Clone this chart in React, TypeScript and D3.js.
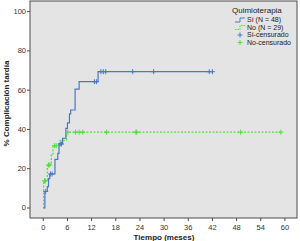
import React from "react";
import * as d3 from "d3";

// Sí (N = 48): step times (months) and cumulative incidence (%)
const siTimes = [0, 0.4, 1.0, 1.3, 1.6, 2.9, 3.6, 3.9, 4.8, 5.6, 6.0, 6.5, 6.8, 7.9, 8.9, 13.6, 42.0];
const siValues = [0, 8.4, 10.9, 15.0, 17.3, 24.8, 27.8, 32.6, 35.5, 40.5, 43.3, 47.9, 49.9, 60.5, 64.3, 69.4, 69.4];
const siCensored = [0.6, 1.8, 2.2, 4.2, 4.5, 12.7, 13.2, 14.3, 14.9, 15.5, 22.2, 27.4, 41.2, 42.0];

// No (N = 29)
const noTimes = [0, 0.1, 1.0, 2.0, 2.4, 4.2, 5.8, 59.0];
const noValues = [0, 13.8, 21.9, 27.0, 31.7, 34.5, 38.6, 38.6];
const noCensored = [0.3, 0.5, 1.3, 1.6, 2.8, 3.2, 6.1, 8.0, 8.9, 9.8, 15.7, 23.0, 23.2, 49.0, 59.0];

const xTicks = [0, 6, 12, 18, 24, 30, 36, 42, 48, 54, 60];
const yTicks = [0, 20, 40, 60, 80, 100];

const legendTitle = "Quimioterapia";
const legendLabels = ["Sí (N = 48)", "No (N = 29)", "Sí-censurado", "No-censurado"];

const BLUE = "#4a78c9";
const GREEN = "#4fe03a";
const FONT = "Arial, 'Liberation Sans', sans-serif";

function stepValue(times: number[], values: number[], t: number) {
  let v = values[0];
  for (let i = 0; i < times.length; i++) if (times[i] <= t) v = values[i];
  return v;
}

export default function App() {
  const W = 300, H = 241;
  const left = 30, right = 297, top = 1, bottom = 218;
  const x = d3.scaleLinear().domain([-3.3, 63]).range([left, right]);
  const y = d3.scaleLinear().domain([-5.1, 105.4]).range([bottom, top]);

  const line = d3
    .line<[number, number]>()
    .x((d) => x(d[0]))
    .y((d) => y(d[1]))
    .curve(d3.curveStepAfter);

  const siPts = siTimes.map((t, i) => [t, siValues[i]] as [number, number]);
  const noPts = noTimes.map((t, i) => [t, noValues[i]] as [number, number]);

  const cross = (cx: number, cy: number, color: string, key: string) => (
    <g key={key} stroke={color} strokeWidth={1}>
      <line x1={cx - 2.5} x2={cx + 2.5} y1={cy} y2={cy} />
      <line x1={cx} x2={cx} y1={cy - 2.5} y2={cy + 2.5} />
    </g>
  );

  const legY = (i: number) => 20 + i * 7.5;

  return (
    <svg width={W} height={H} style={{ position: "absolute", left: 0, top: 0, background: "#fff" }} fontFamily={FONT}>
      <rect x={left} y={top} width={right - left} height={bottom - top} fill="#e4e4e4" stroke="#4d4d4d" strokeWidth={1} />
      {yTicks.map((t) => (
        <g key={"y" + t}>
          <line x1={left - 3} x2={left} y1={y(t)} y2={y(t)} stroke="#4d4d4d" />
          <text x={left - 4} y={y(t)} dy="0.33em" textAnchor="end" fontSize={7.5} fill="#333">
            {t}
          </text>
        </g>
      ))}
      {xTicks.map((t) => (
        <g key={"x" + t}>
          <line x1={x(t)} x2={x(t)} y1={bottom} y2={bottom + 3} stroke="#4d4d4d" />
          <text x={x(t)} y={bottom + 12} textAnchor="middle" fontSize={7.5} fill="#333">
            {t}
          </text>
        </g>
      ))}
      <text x={164} y={239.5} textAnchor="middle" fontSize={8} fontWeight="bold" fill="#222">
        Tiempo (meses)
      </text>
      <text
        transform={`translate(9, ${(top + bottom) / 2 - 6}) rotate(-90)`}
        textAnchor="middle"
        fontSize={8}
        fontWeight="bold"
        fill="#222"
      >
        % Complicación tardía
      </text>

      <path d={line(noPts) || ""} fill="none" stroke={GREEN} strokeWidth={1.2} strokeDasharray="2,1.5" />
      <path d={line(siPts) || ""} fill="none" stroke={BLUE} strokeWidth={1.2} />
      {noCensored.map((t, i) => cross(x(t), y(stepValue(noTimes, noValues, t)), GREEN, "nc" + i))}
      {siCensored.map((t, i) => cross(x(t), y(stepValue(siTimes, siValues, t)), BLUE, "sc" + i))}

      <text x={232} y={12.5} fontSize={8} fill="#222">
        {legendTitle}
      </text>
      <path d={`M235,${legY(0) + 2} H240 V${legY(0) - 2} H245`} fill="none" stroke={BLUE} strokeWidth={1} />
      <path d={`M235,${legY(1) + 2} H240 V${legY(1) - 2} H245`} fill="none" stroke={GREEN} strokeWidth={1} strokeDasharray="1.5,1" />
      {cross(240, legY(2), BLUE, "lc1")}
      {cross(240, legY(3), GREEN, "lc2")}
      {legendLabels.map((l, i) => (
        <text key={l} x={247} y={legY(i)} dy="0.35em" fontSize={7} fill="#222">
          {l}
        </text>
      ))}
    </svg>
  );
}
